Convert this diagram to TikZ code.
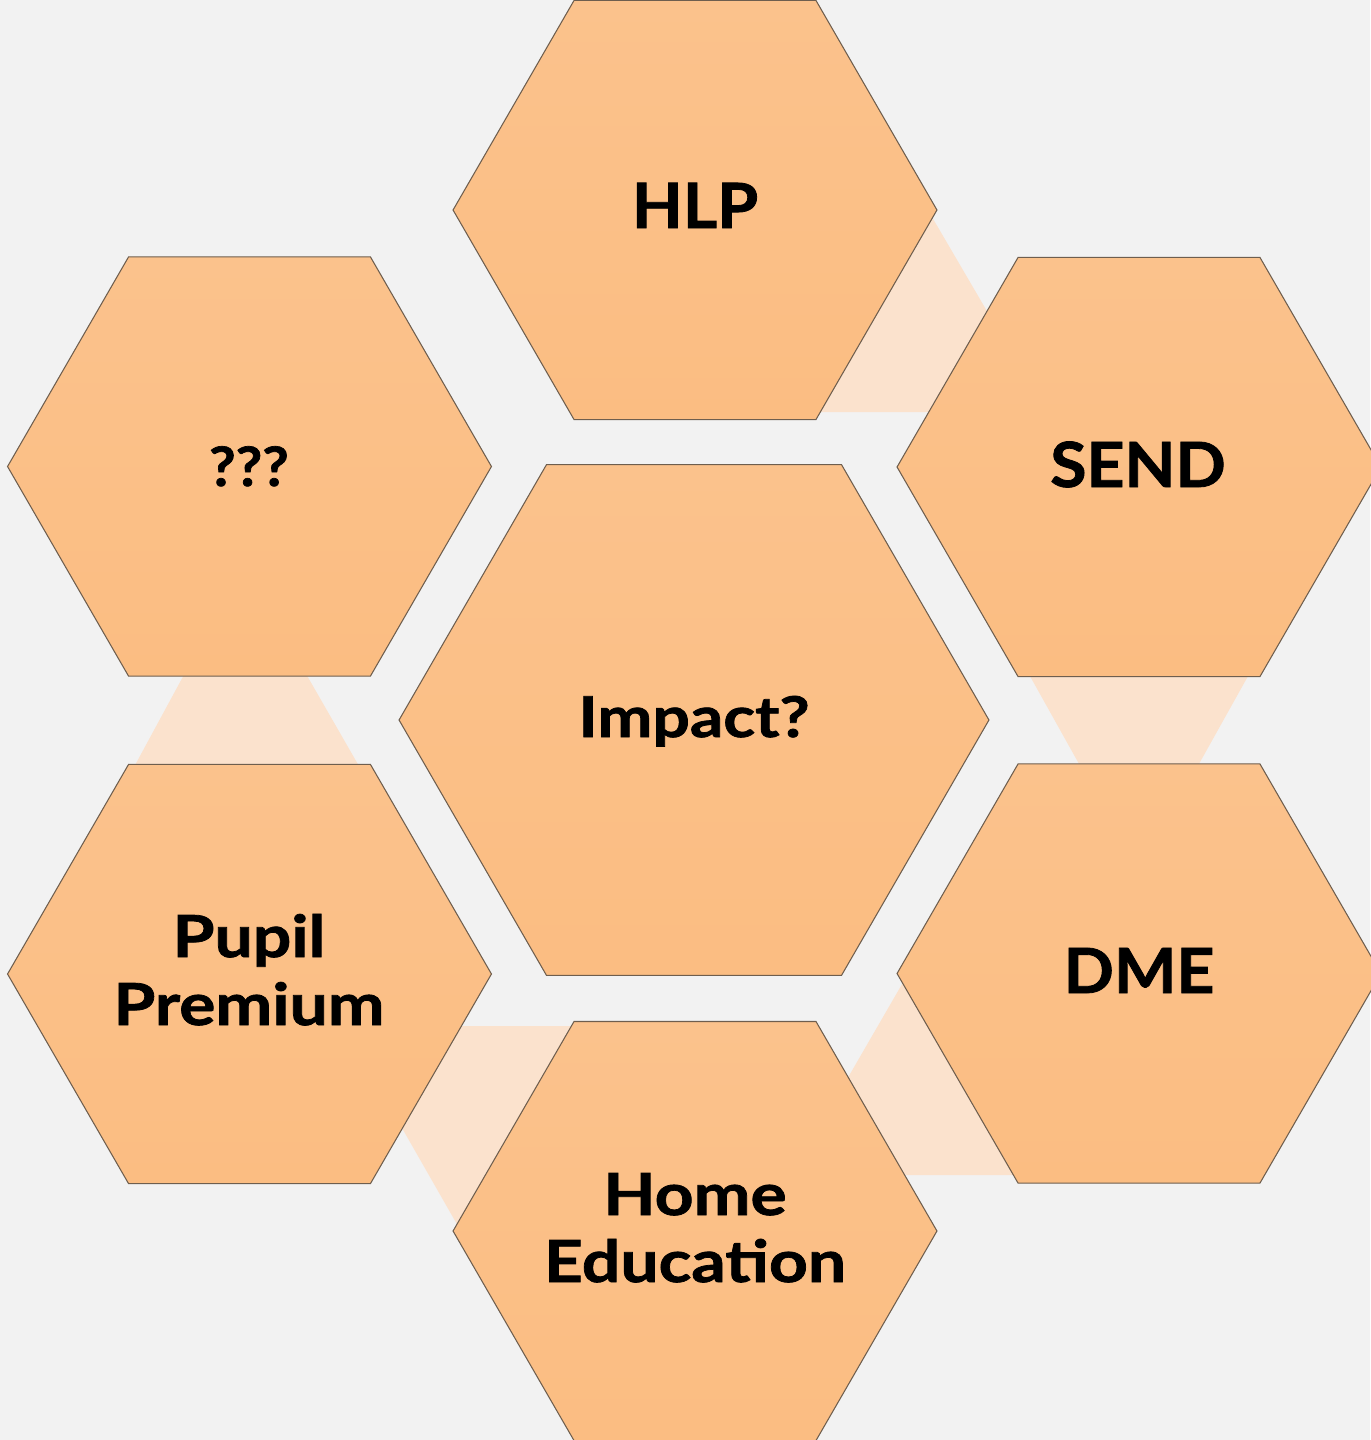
\documentclass[tikz,border=0pt]{standalone}
\usepackage{fontspec}
\setmainfont{Lato}
\newfontfamily\hexfont{Lato}[FakeStretch=1.17,FakeBold=1.3]
\newfontfamily\hexfontn{Lato}[FakeStretch=1.06,FakeBold=1.3]
\usetikzlibrary{shapes.geometric}
\definecolor{bgc}{HTML}{F2F2F2}
\definecolor{hextop}{HTML}{FBC28C}
\definecolor{hexbot}{HTML}{FBBD82}
\definecolor{linkfill}{HTML}{FBE2CD}
\definecolor{hexline}{HTML}{6E5E4E}
\tikzset{
  hexbox/.style={regular polygon, regular polygon sides=6, inner sep=0pt, outer sep=0pt,
    draw=hexline, line width=0.6pt, top color=hextop, bottom color=hexbot},
  smallhex/.style={hexbox, minimum size=9.68cm},
  bighex/.style={hexbox, minimum size=11.8cm},
  link/.style={fill=linkfill, draw=none},
  lbl/.style={anchor=base, inner sep=0pt, font=\hexfont\bfseries\fontsize{33}{40}\selectfont},
  lblbig/.style={lbl, font=\hexfontn\bfseries\fontsize{35.5}{42}\selectfont},
  lblq/.style={lbl, font=\hexfontn\bfseries\fontsize{31}{38}\selectfont},
  lblmid/.style={lbl, font=\hexfont\bfseries\fontsize{32}{38}\selectfont}
}
\begin{document}
\begin{tikzpicture}[x=0.02cm,y=-0.02cm]
\fill[bgc] (0,0) rectangle (1370,1440);
\useasboundingbox (0,0) rectangle (1370,1440);
% connectors (behind the hexagons)
\fill[link] (922,200) -- (998,330) -- (998,412) -- (800,412) -- (800,200) -- cycle;
\fill[link] (1021,660) -- (1257,660) -- (1190,780) -- (1088,780) -- cycle;
\fill[link] (916,960) -- (835,1100) -- (835,1175) -- (1040,1175) -- (1040,960) -- cycle;
\fill[link] (420,1026) -- (600,1026) -- (600,1240) -- (466,1240) -- (386,1100) -- cycle;
\fill[link] (192,660) -- (298,660) -- (367,780) -- (127,780) -- cycle;
% hexagons
\node[smallhex] (hlp)   at (695,210)   {};
\node[smallhex] (send)  at (1139,467)  {};
\node[smallhex] (qqq)   at (249.5,466.5) {};
\node[bighex]   (imp)   at (694,720)   {};
\node[smallhex] (pupil) at (249.5,974) {};
\node[smallhex] (dme)   at (1139,973.5) {};
\node[smallhex] (home)  at (695,1231)  {};
% labels
\node[lblbig] (tHLP)  at (695,228)  {HLP};
\node[lblbig] (tSEND) at (1138,487) {SEND};
\node[lblq]   (tQQQ)  at (249,486)  {???};
\node[lblbig] (tDME)  at (1139,993) {DME};
\node[lblmid] (tImp)  at (694,737)  {Impact?};
\node[lbl] (tPupA) at (249,957)  {Pupil};
\node[lbl] (tPupB) at (249,1025) {Premium};
\node[lbl] (tHomA) at (695,1215) {Home};
\node[lbl] (tHomB) at (695,1282) {Education};
\end{tikzpicture}
\end{document}
